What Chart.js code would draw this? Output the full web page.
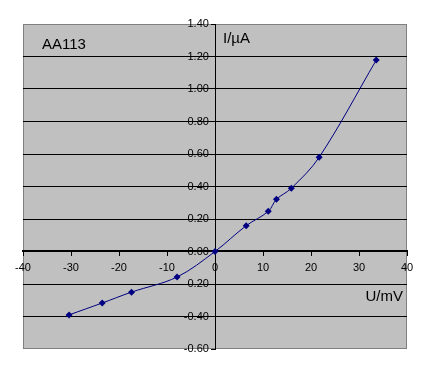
<!DOCTYPE html>
<html>
<head>
<meta charset="utf-8">
<script src="https://cdn.jsdelivr.net/npm/chart.js@4/dist/chart.umd.min.js"></script>
<style>
  html, body { margin: 0; padding: 0; background: #fff; }
</style>
</head>
<body>
<canvas id="iv-chart" width="431" height="373"></canvas>
<script>
// Messwerte AA113 (U in mV, I in µA)
const voltage = [-30.4, -23.5, -17.4, -7.9, 0, 6.5, 11.1, 12.8, 15.9, 21.7, 33.6];
const current = [-0.39, -0.317, -0.25, -0.157, 0, 0.159, 0.247, 0.321, 0.389, 0.58, 1.178];
const xTicks = [-40, -30, -20, -10, 0, 10, 20, 30, 40];
const yTicks = [-0.6, -0.4, -0.2, 0, 0.2, 0.4, 0.6, 0.8, 1.0, 1.2, 1.4];

const FONT = 'Liberation Sans, Arial, sans-serif';

const plotBox = {
    id: 'plotBox',
    beforeDraw(chart) {
        const { ctx, chartArea: a } = chart;
        ctx.save();
        ctx.fillStyle = '#c0c0c0';
        ctx.fillRect(a.left, a.top, a.width, a.height);
        ctx.strokeStyle = '#808080';
        ctx.lineWidth = 1;
        ctx.strokeRect(a.left + 0.5, a.top + 0.5, a.width - 1, a.height - 1);
        ctx.restore();
    },
    afterDraw(chart) {
        const { ctx } = chart;
        ctx.save();
        ctx.fillStyle = '#000';
        ctx.font = '15px ' + FONT;
        ctx.textBaseline = 'alphabetic';
        ctx.textAlign = 'left';
        ctx.fillText('AA113', 42, 49);
        ctx.fillText('I/µA', 223, 43);
        ctx.textAlign = 'right';
        ctx.fillText('U/mV', 403, 301);
        ctx.restore();
    }
};

const points = voltage.map((u, i) => ({ x: u, y: current[i] }));

new Chart(document.getElementById('iv-chart'), {
    type: 'scatter',
    data: {
        datasets: [{
            data: points,
            showLine: true,
            borderColor: '#000080',
            borderWidth: 1,
            tension: 0.35,
            pointStyle: 'rectRot',
            pointRadius: 3.5,
            pointBackgroundColor: '#000080',
            pointBorderColor: '#000080',
            pointBorderWidth: 0
        }]
    },
    options: {
        responsive: false,
        animation: false,
        devicePixelRatio: 1,
        layout: { padding: { left: 23, right: 24, top: 24, bottom: 24 } },
        plugins: { legend: { display: false }, tooltip: { enabled: false } },
        scales: {
            x: {
                type: 'linear',
                position: { y: 0 },
                min: -40, max: 40,
                afterBuildTicks: s => { s.ticks = xTicks.map(v => ({ value: v })); },
                afterFit: s => { s.height = 0; },
                grid: { drawOnChartArea: false, drawTicks: true, tickLength: 4, color: '#000' },
                border: { display: true, color: '#000', width: 2 },
                ticks: { color: '#000', font: { family: FONT, size: 11 }, padding: 6, maxRotation: 0 }
            },
            y: {
                type: 'linear',
                position: { x: 0 },
                min: -0.6, max: 1.4,
                afterBuildTicks: s => { s.ticks = yTicks.map(v => ({ value: v })); },
                afterFit: s => { s.width = 0; },
                grid: {
                    color: c => (c.index === 0 || c.index === yTicks.length - 1) ? 'rgba(0,0,0,0)' : '#000',
                    tickColor: '#000',
                    lineWidth: 1,
                    drawTicks: true,
                    tickLength: 4
                },
                border: { display: true, color: '#000', width: 1 },
                ticks: {
                    color: '#000',
                    font: { family: FONT, size: 11 },
                    // labels sit on the axis line when position is {x: 0}, so pad with spaces
                    callback: v => v.toFixed(2) + '  '
                }
            }
        }
    },
    plugins: [plotBox]
});
</script>
</body>
</html>
